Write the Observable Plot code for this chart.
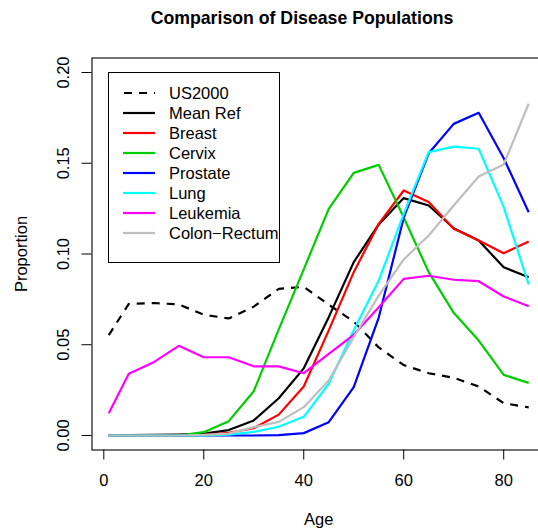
<!DOCTYPE html>
<html><head><meta charset="utf-8">
<script src="https://cdn.jsdelivr.net/npm/d3@7"></script>
<script src="https://cdn.jsdelivr.net/npm/@observablehq/plot@0.6"></script>
<style>
body{margin:0;background:#fff;font-family:"Liberation Sans",Arial,sans-serif;}
#wrap{position:relative;width:538px;height:531px;overflow:hidden;}
#title{height:40px;box-sizing:border-box;padding-top:10px;padding-left:66px;text-align:center;font-weight:bold;font-size:17.7px;line-height:1;white-space:nowrap;}
#legend{position:absolute;left:108px;top:72px;width:170px;height:179px;border:1px solid #000;background:#fff;box-sizing:content-box;padding-top:10px;}
.row{height:20px;display:flex;align-items:center;font-size:16.5px;line-height:1;}
.row svg{margin-left:14px;margin-right:14px;}
</style></head>
<body><div id="wrap"><div id="title">Comparison of Disease Populations</div><div id="chart"></div><div id="legend"></div></div>
<script>
const ages = [1,5,10,15,20,25,30,35,40,45,50,55,60,65,70,75,80,85];
const us2000   = [0.0553,0.0725,0.0730,0.0722,0.0665,0.0645,0.0710,0.0808,0.0819,0.0721,0.0627,0.0485,0.0388,0.0343,0.0318,0.0270,0.0178,0.0155];
const meanRef  = [0,0.0002,0.0003,0.0005,0.0010,0.0030,0.0083,0.0205,0.0370,0.0652,0.0955,0.1163,0.1308,0.1267,0.1142,0.1074,0.0927,0.0872];
const breast   = [0,0,0,0,0.0003,0.0015,0.0040,0.0115,0.0270,0.0579,0.0900,0.1166,0.1350,0.1286,0.1139,0.1074,0.1004,0.1069];
const cervix   = [0,0,0,0,0.0018,0.0079,0.0244,0.0585,0.0915,0.1249,0.1447,0.1491,0.1201,0.0900,0.0676,0.0523,0.0334,0.0290];
const prostate = [0,0,0,0,0,0,0,0.0002,0.0013,0.0073,0.0266,0.0650,0.1200,0.1555,0.1717,0.1778,0.1528,0.1230];
const lung     = [0,0,0,0,0,0.0005,0.0020,0.0048,0.0103,0.0285,0.0580,0.0854,0.1221,0.1561,0.1592,0.1580,0.1258,0.0832];
const leukemia = [0.0123,0.0340,0.0404,0.0494,0.0431,0.0431,0.0381,0.0381,0.0343,0.0450,0.0555,0.0707,0.0863,0.0880,0.0858,0.0850,0.0766,0.0712];
const colon    = [0,0,0,0,0.0003,0.0010,0.0046,0.0075,0.0156,0.0303,0.0542,0.0771,0.0970,0.1102,0.1267,0.1427,0.1493,0.1828];
const seriesNames = ["US2000","Mean Ref","Breast","Cervix","Prostate","Lung","Leukemia","Colon\u2212Rectum"];
const seriesValues = [us2000,meanRef,breast,cervix,prostate,lung,leukemia,colon];
const seriesColors = ["#000000","#000000","#FF0000","#00CD00","#0000FF","#00FFFF","#FF00FF","#BEBEBE"];
const seriesDash = ["8,7",null,null,null,null,null,null,null];
const xTicks = [0,20,40,60,80];
const yTicks = [0,0.05,0.10,0.15,0.20];

const series = seriesNames.map((name,i)=>({name,color:seriesColors[i],dash:seriesDash[i],
  rows: ages.map((a,j)=>({age:a,value:seriesValues[i][j]}))}));

const plot = Plot.plot({
  width: 538, height: 491,
  marginLeft: 91.5, marginRight: -7, marginTop: 17.5, marginBottom: 81.5,
  style: {fontFamily: "'Liberation Sans', Arial, sans-serif", fontSize: "16.5px", background: "#fff", color: "#000"},
  x: {domain: [-2.36, 88.36], ticks: xTicks, tickSize: 10, tickPadding: 14, tickFormat: d3.format("d"),
      label: "Age", labelAnchor: "center", labelOffset: 75, labelArrow: false},
  y: {domain: [-0.008, 0.208], ticks: yTicks, tickSize: 10, tickPadding: 13, tickFormat: d3.format(".2f"), tickRotate: -90,
      label: "Proportion", labelAnchor: "center", labelOffset: 77, labelArrow: false},
  marks: [
    Plot.frame({stroke: "#000", strokeWidth: 1.1}),
    ...series.map(s => Plot.line(s.rows, {x: "age", y: "value", stroke: s.color, strokeWidth: 2.2,
        strokeDasharray: s.dash || undefined, strokeLinejoin: "round", strokeLinecap: "butt"}))
  ]
});
document.getElementById("chart").appendChild(plot);

const leg = document.getElementById("legend");
series.forEach(s => {
  const r = document.createElement("div"); r.className = "row";
  r.innerHTML = `<svg width="32" height="6"><line x1="0" y1="3" x2="32" y2="3" stroke="${s.color}" stroke-width="2.2" ${s.dash?`stroke-dasharray="${s.dash}" stroke-dashoffset="-1"`:""}/></svg><span>${s.name}</span>`;
  leg.appendChild(r);
});
</script></body></html>
